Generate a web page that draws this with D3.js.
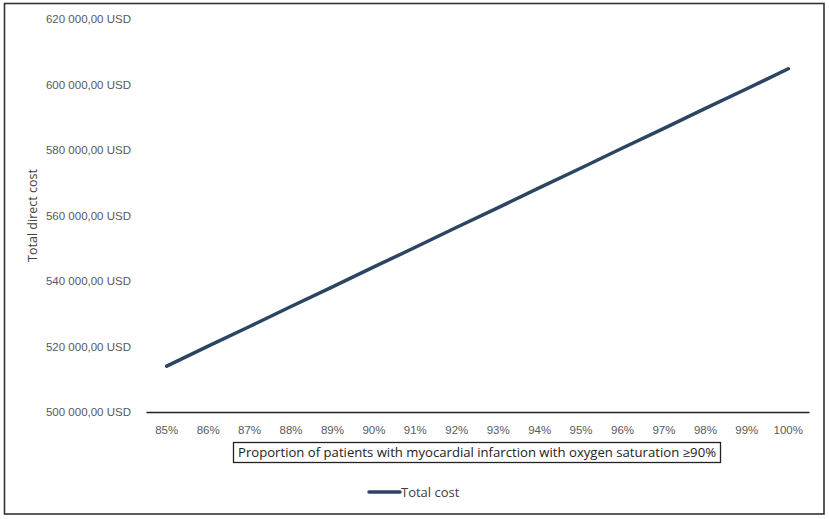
<!DOCTYPE html>
<html>
<head>
<meta charset="utf-8">
<script src="https://cdn.jsdelivr.net/npm/d3@7"></script>
<style>
  body { margin: 0; background: #fff; }
  svg { display: block; font-family: "Open Sans", sans-serif; }
</style>
</head>
<body>
<script>
const categories = ['85%', '86%', '87%', '88%', '89%', '90%', '91%', '92%', '93%', '94%', '95%', '96%', '97%', '98%', '99%', '100%'];
const totalCost = [514000, 520100, 526100, 532200, 538200, 544300, 550300, 556400, 562400, 568500, 574500, 580600, 586600, 592700, 598700, 604800];
const yTicks = [500000, 520000, 540000, 560000, 580000, 600000, 620000];
const yTitle = 'Total direct cost';
const xTitle = 'Proportion of patients with myocardial infarction with oxygen saturation \u226590%';
const seriesName = 'Total cost';

const W = 829, H = 519;
const plot = { left: 146, right: 809, top: 19, bottom: 412 };

const svg = d3.select('body').append('svg')
  .attr('width', W)
  .attr('height', H);

// outer frame
svg.append('rect')
  .attr('x', 4.5).attr('y', 3.5)
  .attr('width', 819.5).attr('height', 510.5)
  .attr('fill', 'none')
  .attr('stroke', '#333')
  .attr('stroke-width', 1.6);

const x = d3.scaleBand()
  .domain(categories)
  .range([plot.left, plot.right]);

const y = d3.scaleLinear()
  .domain([500000, 620000])
  .range([plot.bottom, plot.top]);

const fmt = (v) => d3.format(',.2f')(v).replace(/,/g, ' ').replace('.', ',') + ' USD';

// y axis (labels only)
const yAxis = d3.axisLeft(y)
  .tickValues(yTicks)
  .tickFormat(fmt)
  .tickSize(0)
  .tickPadding(15);

const gy = svg.append('g')
  .attr('transform', 'translate(' + plot.left + ',0)')
  .call(yAxis);
gy.select('.domain').remove();
gy.selectAll('text')
  .attr('fill', '#595959')
  .style('font-size', '11.5px');

// x axis
const xAxis = d3.axisBottom(x).tickSize(0).tickPadding(14);
const gx = svg.append('g')
  .attr('transform', 'translate(0,' + plot.bottom + ')')
  .call(xAxis);
gx.select('.domain')
  .attr('stroke', '#222')
  .attr('stroke-width', 1.6);
gx.selectAll('text')
  .attr('fill', '#595959')
  .style('font-size', '11.5px');

// y title
svg.append('text')
  .attr('transform', 'translate(37,' + ((plot.top + plot.bottom) / 2) + ') rotate(-90)')
  .attr('text-anchor', 'middle')
  .attr('fill', '#404040')
  .style('font-size', '12.5px')
  .text(yTitle);

// x title with box
const targetW = 478;
svg.append('rect')
  .attr('x', 477 - targetW / 2 - 4.5)
  .attr('y', 442.5)
  .attr('width', targetW + 9)
  .attr('height', 20)
  .attr('fill', 'none')
  .attr('stroke', '#222')
  .attr('stroke-width', 1.3);
svg.append('text')
  .attr('x', 477)
  .attr('y', 457)
  .attr('text-anchor', 'middle')
  .attr('fill', '#222')
  .style('font-size', '12.5px')
  .attr('textLength', targetW)
  .attr('lengthAdjust', 'spacingAndGlyphs')
  .text(xTitle);

// series line
const line = d3.line()
  .x((d, i) => x(categories[i]) + x.bandwidth() / 2)
  .y((d) => y(d));

svg.append('path')
  .datum(totalCost)
  .attr('d', line)
  .attr('fill', 'none')
  .attr('stroke', '#2c4563')
  .attr('stroke-width', 3.5)
  .attr('stroke-linecap', 'round');

// legend
const lg = svg.append('g').attr('transform', 'translate(368,492)');
lg.append('line')
  .attr('x1', 1).attr('x2', 32)
  .attr('y1', 0).attr('y2', 0)
  .attr('stroke', '#2c4563')
  .attr('stroke-width', 3.5)
  .attr('stroke-linecap', 'round');
lg.append('text')
  .attr('x', 33)
  .attr('y', 5)
  .attr('fill', '#404040')
  .style('font-size', '13px')
  .text(seriesName);
</script>
</body>
</html>
